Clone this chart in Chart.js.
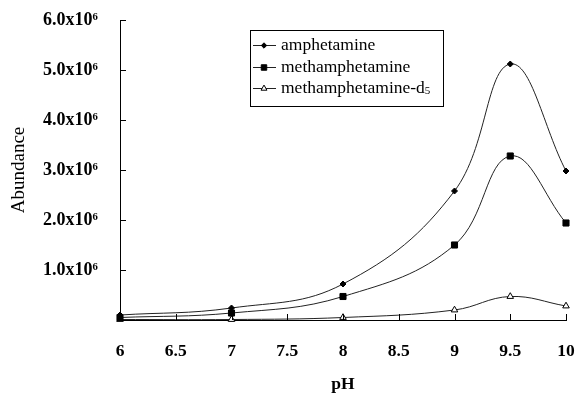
<!DOCTYPE html>
<html><head><meta charset="utf-8">
<script src="https://cdn.jsdelivr.net/npm/chart.js@4.4.0/dist/chart.umd.min.js"></script>
<style>html,body{margin:0;padding:0;background:#fff}</style>
</head><body>
<canvas id="c" width="578" height="393"></canvas>
<script>
const phValues=[6,7,8,9,9.5,10];
const amphetamine=[0.1e6,0.24e6,0.72e6,2.58e6,5.12e6,2.98e6];
const methamphetamine=[0.05e6,0.14e6,0.47e6,1.5e6,3.28e6,1.94e6];
const methamphetamineD5=[0.01e6,0.01e6,0.05e6,0.2e6,0.47e6,0.28e6];
const seriesNames=['amphetamine','methamphetamine','methamphetamine-d'];
const xTickLabels=['6','6.5','7','7.5','8','8.5','9','9.5','10'];
const yTickLabels=['','1.0x10\u2076','2.0x10\u2076','3.0x10\u2076','4.0x10\u2076','5.0x10\u2076','6.0x10\u2076'];

const serif='"Liberation Serif", "Times New Roman", serif';

function pts(vals){
  return phValues.map((x,i)=>({x:x,y:vals[i]}));
}

// small ticks pointing into the plot, like the printed figure
const innerTicks={
  id:'innerTicks',
  afterDraw(chart){
    const ctx=chart.ctx, a=chart.chartArea;
    const xs=chart.scales.x, ys=chart.scales.y;
    ctx.save();
    ctx.strokeStyle='#000';
    ctx.lineWidth=1;
    ctx.beginPath();
    ys.ticks.forEach(t=>{
      if(t.value===0) return;
      const y=Math.round(ys.getPixelForValue(t.value))+0.5;
      ctx.moveTo(a.left,y); ctx.lineTo(a.left+6,y);
    });
    xs.ticks.forEach(t=>{
      if(t.value===6) return;
      const x=Math.round(xs.getPixelForValue(t.value))+0.5;
      ctx.moveTo(x,a.bottom); ctx.lineTo(x,a.bottom-6);
    });
    ctx.stroke();
    ctx.restore();
  }
};

// boxed legend in the upper middle
const boxLegend={
  id:'boxLegend',
  afterDraw(chart){
    const ctx=chart.ctx;
    ctx.save();
    ctx.strokeStyle='#000';
    ctx.lineWidth=1;
    ctx.strokeRect(250.5,30.5,193,76);
    const rows=[45,67,88];
    chart.data.datasets.forEach((ds,i)=>{
      const y=rows[i];
      ctx.strokeStyle='#222';
      ctx.beginPath();
      ctx.moveTo(253,y+0.5); ctx.lineTo(276,y+0.5);
      ctx.stroke();
      ctx.fillStyle=ds.pointBackgroundColor;
      ctx.strokeStyle='#000';
      ctx.lineWidth=1;
      Chart.helpers.drawPoint(ctx,{pointStyle:ds.pointStyle,radius:ds.pointRadius*0.9,rotation:0,borderWidth:1},264,y+0.5);
      ctx.fillStyle='#000';
      ctx.font='17.5px '+serif;
      ctx.textBaseline='middle';
      ctx.textAlign='left';
      ctx.fillText(seriesNames[i],281,y);
      if(i===2){
        const w=ctx.measureText(seriesNames[i]).width;
        ctx.font='11px '+serif;
        ctx.fillText('5',281+w,y+3);
      }
    });
    ctx.restore();
  }
};

new Chart(document.getElementById('c'),{
  type:'line',
  data:{
    datasets:[
      {label:seriesNames[0],data:pts(amphetamine),pointStyle:'rectRot',pointRadius:3,
       pointBackgroundColor:'#000',pointBorderColor:'#000',borderColor:'#222',borderWidth:1,tension:0.4,clip:false},
      {label:seriesNames[1],data:pts(methamphetamine),pointStyle:'rect',pointRadius:4.3,
       pointBackgroundColor:'#000',pointBorderColor:'#000',borderColor:'#222',borderWidth:1,tension:0.4,clip:false},
      {label:seriesNames[2]+'5',data:pts(methamphetamineD5),pointStyle:'triangle',pointRadius:3.8,
       pointBackgroundColor:'#fff',pointBorderColor:'#000',pointBorderWidth:1,borderColor:'#222',borderWidth:1,tension:0.4,clip:false}
    ]
  },
  options:{
    responsive:false,
    devicePixelRatio:1,
    animation:false,
    layout:{padding:{left:2,right:12,top:20,bottom:0}},
    plugins:{legend:{display:false},tooltip:{enabled:false}},
    scales:{
      x:{
        type:'linear',min:6,max:10,
        grid:{display:false},
        border:{display:true,color:'#000',width:1},
        ticks:{stepSize:0.5,color:'#000',padding:13,font:{family:serif,size:17.5,weight:'bold'},
          callback:v=>xTickLabels[Math.round((v-6)*2)]},
        title:{display:true,text:'pH',color:'#000',padding:0,font:{family:serif,size:17.5,weight:'bold',lineHeight:1}},
        afterFit(s){s.height=73;s.paddingLeft=0;s.paddingRight=0;}
      },
      y:{
        min:0,max:6e6,
        grid:{display:false},
        border:{display:true,color:'#000',width:1},
        ticks:{stepSize:1e6,color:'#000',padding:14,font:{family:serif,size:18,weight:'bold'},
          callback:v=>yTickLabels[Math.round(v/1e6)]},
        title:{display:true,text:'Abundance',color:'#000',padding:{top:6,bottom:0},font:{family:serif,size:19,lineHeight:1.2}},
        afterFit(s){s.width=118;s.paddingTop=0;s.paddingBottom=0;}
      }
    }
  },
  plugins:[innerTicks,boxLegend]
});
</script>
</body></html>
